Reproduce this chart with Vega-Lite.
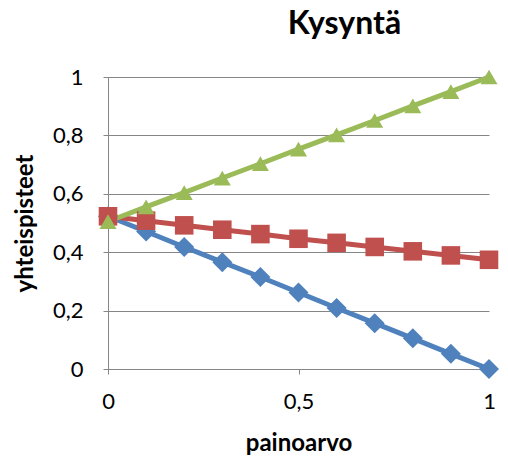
{
  "$schema": "https://vega.github.io/schema/vega-lite/v6.json",
  "width": 381,
  "height": 292,
  "autosize": "none",
  "padding": {"left": 108, "top": 77, "right": 19, "bottom": 93},
  "background": "white",
  "config": {
    "locale": {"number": {"decimal": ",", "thousands": " ", "grouping": [3], "currency": ["", " €"]}},
    "view": {"stroke": null},
    "font": "Lato"
  },
  "title": {
    "text": "Kysyntä",
    "font": "Lato",
    "fontSize": 32,
    "fontWeight": "bold",
    "color": "#000000",
    "anchor": "middle",
    "dx": 46,
    "offset": 25
  },
  "data": {
    "values": [
      {"painoarvo": 0.0, "sarja": "A", "yhteispisteet": 0.523},
      {"painoarvo": 0.1, "sarja": "A", "yhteispisteet": 0.471},
      {"painoarvo": 0.2, "sarja": "A", "yhteispisteet": 0.418},
      {"painoarvo": 0.3, "sarja": "A", "yhteispisteet": 0.366},
      {"painoarvo": 0.4, "sarja": "A", "yhteispisteet": 0.315},
      {"painoarvo": 0.5, "sarja": "A", "yhteispisteet": 0.262},
      {"painoarvo": 0.6, "sarja": "A", "yhteispisteet": 0.209},
      {"painoarvo": 0.7, "sarja": "A", "yhteispisteet": 0.157},
      {"painoarvo": 0.8, "sarja": "A", "yhteispisteet": 0.105},
      {"painoarvo": 0.9, "sarja": "A", "yhteispisteet": 0.052},
      {"painoarvo": 1.0, "sarja": "A", "yhteispisteet": 0.0},
      {"painoarvo": 0.0, "sarja": "B", "yhteispisteet": 0.523},
      {"painoarvo": 0.1, "sarja": "B", "yhteispisteet": 0.508},
      {"painoarvo": 0.2, "sarja": "B", "yhteispisteet": 0.492},
      {"painoarvo": 0.3, "sarja": "B", "yhteispisteet": 0.477},
      {"painoarvo": 0.4, "sarja": "B", "yhteispisteet": 0.462},
      {"painoarvo": 0.5, "sarja": "B", "yhteispisteet": 0.446},
      {"painoarvo": 0.6, "sarja": "B", "yhteispisteet": 0.432},
      {"painoarvo": 0.7, "sarja": "B", "yhteispisteet": 0.418},
      {"painoarvo": 0.8, "sarja": "B", "yhteispisteet": 0.403},
      {"painoarvo": 0.9, "sarja": "B", "yhteispisteet": 0.389},
      {"painoarvo": 1.0, "sarja": "B", "yhteispisteet": 0.374},
      {"painoarvo": 0.0, "sarja": "C", "yhteispisteet": 0.505},
      {"painoarvo": 0.1, "sarja": "C", "yhteispisteet": 0.555},
      {"painoarvo": 0.2, "sarja": "C", "yhteispisteet": 0.604},
      {"painoarvo": 0.3, "sarja": "C", "yhteispisteet": 0.654},
      {"painoarvo": 0.4, "sarja": "C", "yhteispisteet": 0.703},
      {"painoarvo": 0.5, "sarja": "C", "yhteispisteet": 0.753},
      {"painoarvo": 0.6, "sarja": "C", "yhteispisteet": 0.802},
      {"painoarvo": 0.7, "sarja": "C", "yhteispisteet": 0.851},
      {"painoarvo": 0.8, "sarja": "C", "yhteispisteet": 0.901},
      {"painoarvo": 0.9, "sarja": "C", "yhteispisteet": 0.950},
      {"painoarvo": 1.0, "sarja": "C", "yhteispisteet": 1.0}
    ]
  },
  "encoding": {
    "x": {
      "field": "painoarvo",
      "type": "quantitative",
      "scale": {"domain": [0, 1], "nice": false, "zero": false},
      "axis": {
        "title": "painoarvo",
        "values": [0, 0.5, 1],
        "format": ".1~f",
        "grid": false,
        "labelFlush": false,
        "domainColor": "#868686",
        "tickColor": "#868686",
        "tickSize": 5,
        "labelPadding": 17,
        "labelFont": "Lato",
        "labelFontSize": 22,
        "labelColor": "#000000",
        "titleFont": "Lato",
        "titleFontSize": 24,
        "titleFontWeight": "bold",
        "titleColor": "#000000",
        "titleY": 62
      }
    },
    "y": {
      "field": "yhteispisteet",
      "type": "quantitative",
      "scale": {"domain": [0, 1], "nice": false},
      "axis": {
        "title": "yhteispisteet",
        "values": [0, 0.2, 0.4, 0.6, 0.8, 1],
        "format": ".1~f",
        "grid": true,
        "gridColor": "#868686",
        "gridOpacity": 1,
        "domainColor": "#868686",
        "tickColor": "#868686",
        "tickSize": 5,
        "labelPadding": 20,
        "labelFont": "Lato",
        "labelFontSize": 22,
        "labelColor": "#000000",
        "titleFont": "Lato",
        "titleFontSize": 24,
        "titleFontWeight": "bold",
        "titleColor": "#000000",
        "titleX": -71,
        "titleY": 146
      }
    },
    "color": {
      "field": "sarja",
      "type": "nominal",
      "scale": {"domain": ["A", "B", "C"], "range": ["#4F81BD", "#C0504D", "#9BBB59"]},
      "legend": null
    }
  },
  "layer": [
    {
      "mark": {"type": "line", "strokeWidth": 5}
    },
    {
      "mark": {"type": "point", "filled": true, "opacity": 1},
      "encoding": {
        "shape": {
          "field": "sarja",
          "type": "nominal",
          "scale": {"domain": ["A", "B", "C"], "range": ["diamond", "square", "triangle-up"]},
          "legend": null
        },
        "size": {
          "field": "sarja",
          "type": "nominal",
          "scale": {"domain": ["A", "B", "C"], "range": [400, 289, 600]},
          "legend": null
        }
      }
    }
  ]
}
